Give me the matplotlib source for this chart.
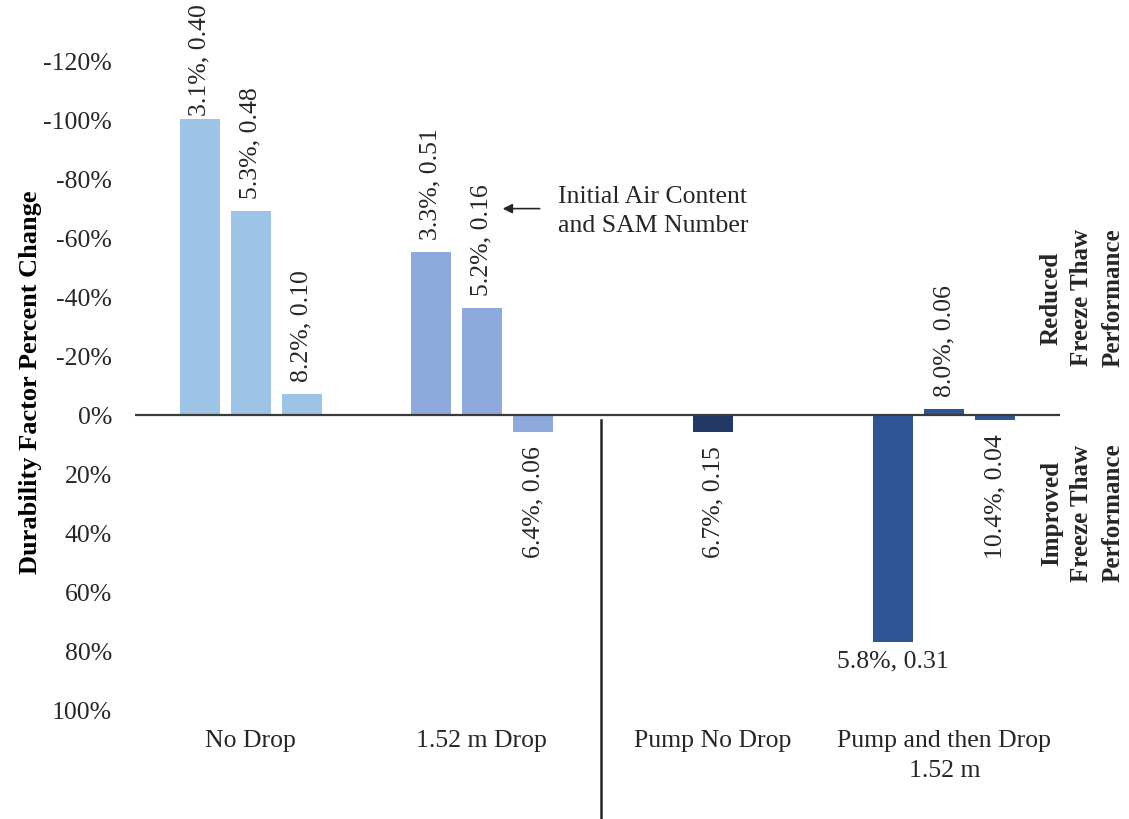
import matplotlib
matplotlib.use("Agg")
import matplotlib.pyplot as plt

# ---- data -------------------------------------------------------------
categories = ["No Drop", "1.52 m Drop", "Pump No Drop", "Pump and then Drop\n1.52 m"]

# durability factor percent change per mix (negative = loss of durability)
no_drop = [-100, -69, -7]
drop_152 = [-55, -36, 6]
pump_no_drop = [6]
pump_then_drop = [77, -2, 2]

# initial air content and SAM number of each mix
no_drop_labels = ["3.1%, 0.40", "5.3%, 0.48", "8.2%, 0.10"]
drop_152_labels = ["3.3%, 0.51", "5.2%, 0.16", "6.4%, 0.06"]
pump_no_drop_labels = ["6.7%, 0.15"]
pump_then_drop_labels = ["5.8%, 0.31", "8.0%, 0.06", "10.4%, 0.04"]

ytick_values = [-120, -100, -80, -60, -40, -20, 0, 20, 40, 60, 80, 100]
ytick_labels = [f"{v}%" for v in ytick_values]

# ---- style ------------------------------------------------------------
plt.rcParams["font.family"] = ["Liberation Serif", "DejaVu Serif"]
TEXT = "#262626"
group_values = [no_drop, drop_152, pump_no_drop, pump_then_drop]
group_labels = [no_drop_labels, drop_152_labels, pump_no_drop_labels, pump_then_drop_labels]
group_colors = ["#9DC3E6", "#8EA9DB", "#203864", "#2F5597"]
label_rotation = [[90, 90, 90], [90, 90, 90], [90], [0, 90, 90]]
bar_width = 0.173
slot = 0.221
FS = 18.5

fig = plt.figure(figsize=(11.29, 8.2), dpi=100)
W, H = 1129, 820
ax = fig.add_axes([135 / W, 1 - 711 / H, (1060 - 135) / W, (711 - 61) / H])

label_texts = []
for gi, (vals, labs, col, rots) in enumerate(zip(group_values, group_labels, group_colors, label_rotation)):
    n = len(vals)
    offsets = [(k - (n - 1) / 2) * slot for k in range(n)]
    xs = [gi + o for o in offsets]
    ax.bar(xs, vals, width=bar_width, color=col, zorder=2)
    for x, v, lab, rot in zip(xs, vals, labs, rots):
        up = v < 0
        gap = 13 if rot == 90 else 7
        t = ax.annotate(lab, xy=(x, v), xytext=(0, gap if up else -gap),
                        textcoords="offset pixels", rotation=rot,
                        ha="center", va="bottom" if up else "top",
                        fontsize=FS, color=TEXT, annotation_clip=False)
        label_texts.append(t)

ax.axhline(0, color="#3a3a3a", lw=1.6, zorder=3)

ax.set_xlim(-0.5, 3.5)
ax.set_ylim(100, -120)
ax.set_yticks(ytick_values)
ax.set_yticklabels(ytick_labels, fontsize=FS, color=TEXT)
ax.set_xticks([])
ax.tick_params(axis="y", length=0, pad=16.5)
for s in ax.spines.values():
    s.set_visible(False)

# group names under the plot
for i, name in enumerate(categories):
    ax.annotate(name, xy=(i, 0), xycoords=("data", "axes fraction"),
                xytext=(0, -19), textcoords="offset pixels",
                ha="center", va="top", fontsize=FS, color=TEXT,
                linespacing=1.47, annotation_clip=False)

# separator between pumped and non-pumped groups
ax.plot([1.515, 1.515], [1.7, 140], color="#262626", lw=1.8, clip_on=False, zorder=3)

# note on the meaning of the bar labels
ax.annotate("", xy=(1 + 0.09, -69.7), xytext=(1 + 0.25, -69.7),
            arrowprops=dict(arrowstyle="-|>", color="#262626", lw=1.2,
                            mutation_scale=14, shrinkA=0, shrinkB=0))
ax.text(1 + 0.329, -69.0, "Initial Air Content\nand SAM Number", ha="left", va="center",
        fontsize=FS, color=TEXT, linespacing=1.44)

# side notes
fig.text(31 / W, 1 - 382 / H, "Durability Factor Percent Change", rotation=90,
         ha="center", va="center", fontsize=19, fontweight="bold", color="black")
fig.text(1082 / W, 1 - 298 / H, "Reduced\nFreeze Thaw\nPerformance", rotation=90,
         ha="center", va="center", multialignment="center", fontsize=18,
         fontweight="bold", color=TEXT, linespacing=1.43)
fig.text(1082 / W, 1 - 513 / H, "Improved\nFreeze Thaw\nPerformance", rotation=90,
         ha="center", va="center", multialignment="center", fontsize=18,
         fontweight="bold", color=TEXT, linespacing=1.43)

# keep value labels inside the canvas
fig.canvas.draw()
renderer = fig.canvas.get_renderer()
for t in label_texts:
    bb = t.get_window_extent(renderer)
    over = bb.y1 - (fig.bbox.height - 4)
    if over > 0:
        dx, dy = t.xyann
        t.xyann = (dx, dy - over)

fig.savefig("out.png", dpi=100, facecolor="white")
